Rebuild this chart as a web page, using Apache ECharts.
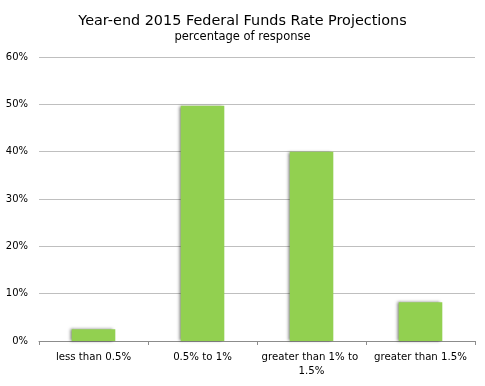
<!DOCTYPE html>
<html><head><meta charset="utf-8">
<script src="https://cdn.jsdelivr.net/npm/echarts@6/dist/echarts.min.js"></script>
<style>html,body{margin:0;padding:0;background:#fff}#c{width:485px;height:386px}</style>
</head><body><div id="c"></div>
<script>
const categories = ["less than 0.5%", "0.5% to 1%", "greater than 1% to 1.5%", "greater than 1.5%"];
const values = [2.5, 49.7, 40.0, 8.2];
const yTicks = [0, 10, 20, 30, 40, 50, 60];

const FF = '"DejaVu Sans", Verdana, sans-serif';
const chart = echarts.init(document.getElementById('c'));
chart.setOption({
  animation: false,
  title: {
    text: 'Year-end 2015 Federal Funds Rate Projections',
    subtext: 'percentage of response',
    left: 'center', top: 9, itemGap: 3,
    textStyle: {fontFamily: FF, fontSize: 14.4, fontWeight: 'normal', color: '#000'},
    subtextStyle: {fontFamily: FF, fontSize: 11.5, color: '#000'}
  },
  grid: {left: 39, right: 10, top: 57, bottom: 45, containLabel: false},
  xAxis: {
    type: 'category', data: categories,
    axisLine: {lineStyle: {color: '#8c8c8c'}},
    axisTick: {show: true, length: 4, lineStyle: {color: '#8c8c8c'}},
    axisLabel: {fontFamily: FF, fontSize: 10.2, color: '#000', margin: 9,
      width: 105, overflow: 'break', lineHeight: 14, interval: 0}
  },
  yAxis: {
    type: 'value', min: yTicks[0], max: yTicks[yTicks.length-1], interval: 10,
    axisLine: {show: false}, axisTick: {show: false},
    splitLine: {lineStyle: {color: '#bfbfbf', width: 1}},
    axisLabel: {formatter: '{value}%', fontFamily: FF, fontSize: 10, color: '#000', margin: 11}
  },
  series: [{
    type: 'bar', data: values, barWidth: '40%',
    itemStyle: {color: '#92d050', shadowColor: 'rgba(0,0,0,0.5)', shadowBlur: 3, shadowOffsetX: -2, shadowOffsetY: 0}
  }]
});
</script></body></html>
